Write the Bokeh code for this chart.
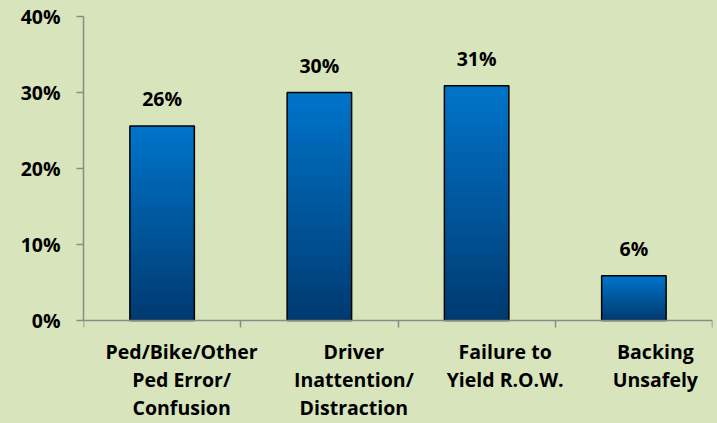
import numpy as np
from bokeh.plotting import figure
from bokeh.models import (ColumnDataSource, LabelSet, FixedTicker,
                          PrintfTickFormatter, LinearAxis, Range1d)
from bokeh.core.properties import value
from bokeh.embed import file_html
from bokeh.resources import INLINE

# ---- data ----
categories = ["Ped/Bike/Other\nPed Error/\nConfusion",
              "Driver\nInattention/\nDistraction",
              "Failure to\nYield R.O.W.",
              "Backing\nUnsafely"]
percent_values = [25.6, 30.0, 30.9, 5.9]
y_ticks = [0, 10, 20, 30, 40]

# ---- style ----
BG = "#D8E4BC"
FONT = "Open Sans"
FS = "19.5px"
AXIS_GRAY = "#8A8A8A"
label_dx = [19.5, 34.5, 28.5, 21.5]   # horizontal label shifts in px

W, H = 717, 423
TOP, PLOT_H = 16, 304                  # frame top and pixel height of the 0..40 span
px_per_unit = PLOT_H / y_ticks[-1]
y_start = -(H - TOP - PLOT_H) / px_per_unit   # extra room below 0 for category labels

xs = [i + 0.5 for i in range(len(categories))]

p = figure(width=W, height=H,
           x_range=Range1d(0, len(categories)), y_range=Range1d(y_start, y_ticks[-1]),
           output_backend="svg", toolbar_location=None,
           x_axis_type=None, y_axis_type=None,
           min_border_left=83, min_border_right=5,
           min_border_top=TOP, min_border_bottom=0,
           background_fill_color=BG, border_fill_color=BG,
           outline_line_color=None)
p.xgrid.visible = False
p.ygrid.visible = False

# gradient bars built from thin (overlapping) slices of each value
N = 60
top_rgb = np.array([0, 116, 202])
bot_rgb = np.array([0, 58, 112])
g = dict(x=[], bottom=[], top=[], color=[])
for xc, v in zip(xs, percent_values):
    for i in range(N):
        t = (i + 0.5) / N
        c = bot_rgb + (top_rgb - bot_rgb) * t
        g["x"].append(xc)
        g["bottom"].append(v * i / N)
        g["top"].append(v * min(i + 2, N) / N)
        g["color"].append("#%02x%02x%02x" % tuple(int(round(k)) for k in c))
p.vbar(x="x", bottom="bottom", top="top", width=0.41, source=ColumnDataSource(g),
       fill_color="color", line_color=None)
p.vbar(x=xs, top=percent_values, width=0.41, fill_color=None,
       line_color="black", line_width=1.5)


def style_axis(ax):
    ax.axis_line_color = AXIS_GRAY
    ax.axis_line_width = 1.5
    ax.major_tick_line_color = AXIS_GRAY
    ax.major_tick_line_width = 1.5
    ax.major_tick_out = 7
    ax.major_tick_in = 0
    ax.minor_tick_line_color = None
    ax.major_label_text_font = FONT
    ax.major_label_text_font_style = "bold"
    ax.major_label_text_font_size = FS
    ax.major_label_text_color = "black"


# y axis (line only over 0..40)
yax = LinearAxis(ticker=FixedTicker(ticks=y_ticks),
                 formatter=PrintfTickFormatter(format="%d%%"),
                 bounds=(y_ticks[0], y_ticks[-1]))
style_axis(yax)
yax.major_label_standoff = 16
p.add_layout(yax, "left")

# x axis fixed at y = 0 (kept in the top panel so the bottom stays free);
# ticks at category boundaries pointing down, no labels
bounds = list(range(len(categories) + 1))
xax = LinearAxis(ticker=FixedTicker(ticks=bounds), fixed_location=0,
                 major_label_overrides={b: "" for b in bounds})
style_axis(xax)
xax.major_tick_out = 0
xax.major_tick_in = 7
xax.major_label_text_font_size = "1px"
xax.major_label_standoff = 0
p.add_layout(xax, "above")

# value labels
vsrc = ColumnDataSource(dict(x=xs, y=percent_values,
                             text=[f"{round(v)}%" for v in percent_values]))
p.add_layout(LabelSet(x="x", y="y", text="text", source=vsrc,
                      y_offset=14, text_align="center", text_baseline="bottom",
                      text_font=value(FONT), text_font_style="bold",
                      text_font_size=value(FS), text_color="black"))

# category labels below the x axis
csrc = ColumnDataSource(dict(x=xs, y=[0] * len(categories), text=categories,
                             dx=label_dx))
p.text(x="x", y="y", text="text", source=csrc, x_offset="dx", y_offset=17,
       text_align="center", text_baseline="top", text_line_height=1.05,
       text_font=value(FONT), text_font_style="bold",
       text_font_size=value(FS), text_color="black")

html = file_html(p, INLINE)
html = html.replace("</head>", "<style>body{background-color:%s;}</style></head>" % BG, 1)
open("out.html", "w").write(html)
